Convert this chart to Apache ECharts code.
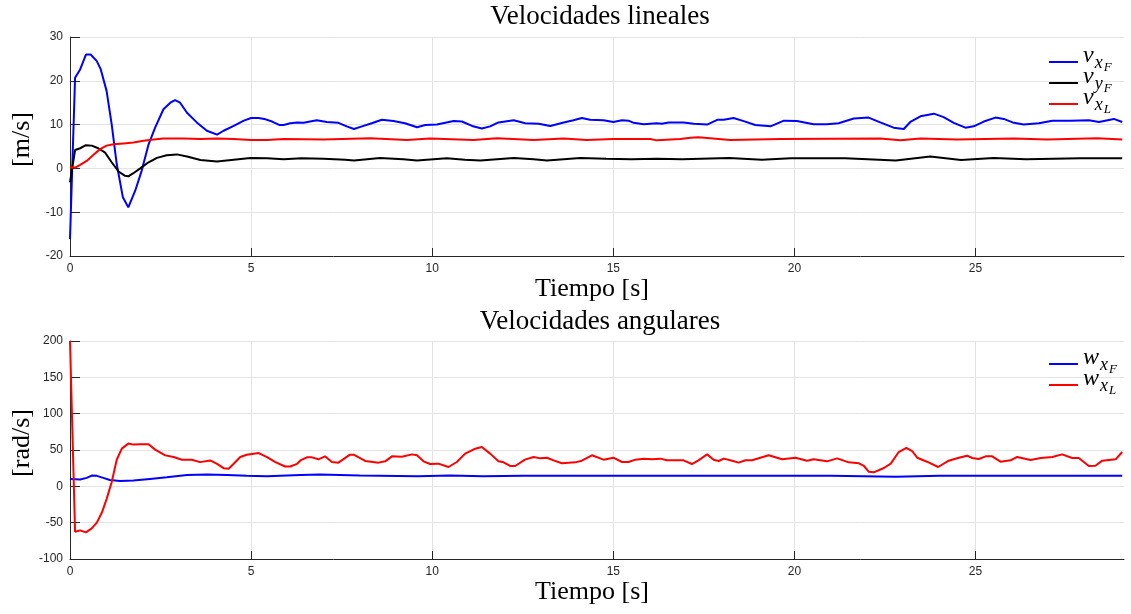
<!DOCTYPE html>
<html><head><meta charset="utf-8">
<script src="https://cdn.jsdelivr.net/npm/echarts@6/dist/echarts.min.js"></script>
<style>html,body{margin:0;padding:0;background:#fff}#c{width:1131px;height:614px}</style>
</head><body><div id="c"></div>
<script>
// ---- data (time [s], value) ----
const xTicks = [0, 5, 10, 15, 20, 25];

const vxF = [[0,-16.1],[0.14,20.7],[0.28,22.6],[0.44,26],[0.57,26],[0.74,24.5],[0.85,22.6],[1.01,17.7],[1.15,10.1],[1.29,1],
[1.46,-6.6],[1.61,-8.9],[1.8,-5.1],[1.98,-0.5],[2.17,5.5],[2.35,9.3],[2.58,13.5],[2.77,15],[2.9,15.6],[3.04,15],
[3.23,12.7],[3.5,10.5],[3.78,8.6],[4.06,7.7],[4.24,8.6],[4.52,9.7],[4.8,10.9],[5.0,11.5],[5.21,11.5],[5.4,11.2],
[5.58,10.7],[5.79,9.9],[5.9,9.9],[6.08,10.3],[6.27,10.5],[6.45,10.4],[6.81,11.0],[7.09,10.6],[7.41,10.4],[7.64,9.6],
[7.84,9.0],[8.06,9.6],[8.29,10.2],[8.61,11.1],[8.93,10.8],[9.25,10.3],[9.58,9.4],[9.81,9.9],[10.13,10.0],[10.36,10.4],
[10.59,10.8],[10.82,10.7],[11.1,9.7],[11.37,9.1],[11.6,9.6],[11.83,10.5],[12.25,11.0],[12.57,10.3],[12.94,10.2],[13.26,9.7],
[13.63,10.5],[13.9,11.0],[14.13,11.5],[14.36,11.1],[14.73,11.0],[15.0,10.6],[15.24,11.0],[15.42,10.9],[15.56,10.4],[15.84,10.1],
[16.2,10.3],[16.34,10.2],[16.53,10.5],[16.94,10.5],[17.22,10.2],[17.59,10.0],[17.87,11.1],[18.05,11.1],[18.32,11.5],[18.6,10.8],
[18.92,9.9],[19.34,9.6],[19.71,10.9],[20.07,10.8],[20.53,10.1],[20.9,10.1],[21.22,10.3],[21.64,11.4],[22.05,11.6],[22.37,10.5],
[22.74,9.3],[23.02,9.0],[23.2,10.6],[23.48,11.9],[23.85,12.5],[24.12,11.7],[24.4,10.4],[24.72,9.3],[24.95,9.6],[25.23,10.7],
[25.55,11.6],[25.78,11.3],[26.06,10.4],[26.33,10.0],[26.75,10.3],[27.12,10.9],[27.62,10.9],[28.13,11.0],[28.41,10.6],[28.82,11.3],
[29.05,10.6]];

const vyF = [[0,-3.2],[0.14,4.2],[0.28,4.6],[0.44,5.3],[0.6,5.2],[0.78,4.6],[0.97,3.6],[1.15,1.4],[1.34,-0.7],[1.52,-1.7],
[1.61,-1.8],[1.75,-1.1],[1.94,0],[2.17,1.4],[2.4,2.4],[2.67,3.0],[2.95,3.2],[3.23,2.7],[3.6,1.9],[4.06,1.6],
[4.52,2.0],[4.98,2.4],[5.44,2.3],[5.9,2.1],[6.4,2.3],[7.0,2.2],[7.6,2.0],[7.84,1.8],[8.56,2.4],[9.2,2.1],
[9.58,1.8],[10.4,2.3],[10.9,2.0],[11.33,1.8],[12.25,2.4],[12.8,2.1],[13.17,1.8],[14.09,2.4],[14.8,2.2],[15.5,2.1],
[16.2,2.2],[16.9,2.1],[18.2,2.4],[19.1,2.0],[19.9,2.3],[21.4,2.3],[22.8,1.8],[23.75,2.7],[24.6,1.9],[25.5,2.4],
[26.4,2.1],[27.9,2.3],[29.05,2.3]];

const vxL = [[0,0.2],[0.14,0.2],[0.28,0.8],[0.46,1.7],[0.65,3.1],[0.83,4.4],[1.01,5.2],[1.2,5.5],[1.48,5.7],[1.75,5.9],
[2.03,6.3],[2.31,6.6],[2.58,6.8],[3.14,6.8],[3.6,6.7],[4.06,6.8],[4.52,6.7],[4.98,6.5],[5.44,6.5],[5.9,6.7],
[7.0,6.6],[8.29,6.9],[9.3,6.5],[9.94,6.8],[11.14,6.5],[11.79,6.9],[12.8,6.5],[13.63,6.8],[14.27,6.5],[15.0,6.7],
[16.02,6.7],[16.2,6.4],[16.85,6.7],[17.13,7.0],[17.35,7.1],[18.23,6.5],[19.62,6.7],[22.37,6.8],[22.92,6.4],[23.48,6.8],
[24.49,6.6],[26.06,6.8],[26.98,6.6],[28.36,6.9],[29.05,6.6]];

const wxF = [[0,10.2],[0.28,9.3],[0.46,11.6],[0.6,14.8],[0.74,14.4],[0.92,11.6],[1.1,8.8],[1.38,7.4],[1.75,7.9],[2.21,10.2],
[2.67,12.5],[3.23,15.7],[3.78,16.2],[4.33,15.7],[4.88,14.4],[5.44,13.9],[6.36,15.7],[6.9,16.2],[8,15.0],[9.6,14.0],
[10.5,14.8],[11.4,13.8],[12.5,14.7],[14,14.7],[15.5,14.5],[17,14.7],[19,14.7],[21,14.7],[22.8,13.3],[24,14.7],
[26,14.7],[29.05,14.7]];

const wxL = [[0,200],[0.14,-62.5],[0.28,-60.6],[0.44,-63.4],[0.6,-57.9],[0.74,-50],[0.88,-36.1],[1.01,-17.6],[1.15,5.6],[1.29,36.6],
[1.43,51.9],[1.61,58.8],[1.75,57.4],[1.94,57.9],[2.17,57.9],[2.35,50.5],[2.63,42.6],[2.86,40.3],[3.09,36.6],[3.36,36.6],
[3.59,33.3],[3.87,35.6],[4.06,31],[4.24,25],[4.38,24.1],[4.52,31],[4.7,40.3],[4.88,43.5],[5.21,45.8],[5.44,40.3],
[5.67,33.3],[5.94,27.3],[6.08,27.3],[6.27,31],[6.36,35.6],[6.54,39.9],[6.68,39.9],[6.86,37.2],[7.04,41.3],[7.23,33.5],
[7.41,32.6],[7.73,43.6],[7.83,43.6],[8.15,34.9],[8.52,32.6],[8.7,34.4],[8.89,41.3],[9.16,40.8],[9.44,44],[9.58,42.7],
[9.76,34.4],[9.94,30.7],[10.17,31.2],[10.45,26.6],[10.68,33.5],[10.91,45],[11.19,51.8],[11.37,54.1],[11.6,45],[11.83,34.4],
[11.97,33],[12.15,28],[12.29,28],[12.56,36.7],[12.8,40.4],[12.98,38.5],[13.17,39.4],[13.35,35.8],[13.58,31.7],[13.95,33],
[14.13,35.3],[14.41,42.7],[14.73,36.7],[15.0,39.4],[15.24,33.5],[15.42,33.5],[15.61,36.7],[15.84,38.1],[16.07,37.2],[16.3,38.1],
[16.48,35.8],[16.94,35.8],[17.17,30.7],[17.35,35.8],[17.59,44],[17.77,36.7],[17.91,34.9],[18.05,38.1],[18.28,35.3],[18.46,32.6],
[18.65,35.8],[18.83,35.8],[19.06,39.4],[19.29,42.7],[19.66,37.2],[20.03,39.4],[20.35,35.3],[20.53,37.2],[20.9,34.4],[21.18,38.5],
[21.5,33],[21.78,31.7],[21.92,28],[22.05,20.2],[22.19,19.3],[22.47,25.2],[22.66,31.2],[22.88,47.2],[23.09,52.8],[23.25,48.6],
[23.39,39.4],[23.66,33.9],[23.97,26.6],[24.26,35.3],[24.54,39.4],[24.77,42.2],[24.91,39],[25.09,37.6],[25.28,41.3],[25.46,41.3],
[25.69,33.9],[25.97,35.8],[26.15,40.4],[26.52,36.2],[26.8,39],[27.12,40.4],[27.39,44],[27.67,39],[27.85,39],[28.13,28],
[28.31,28.4],[28.5,35.3],[28.87,37.2],[29.05,47.2]];

// legend label markup (math italic with subscripts)
const legendLabels = {
  vxF: '{v|v}{s|x}{ss|F}',
  vyF: '{v|v}{s|y}{ss|F}',
  vxL: '{v|v}{s|x}{ss|L}',
  wxF: '{v|w}{s|x}{ss|F}',
  wxL: '{v|w}{s|x}{ss|L}'
};

// ---- styling ----
const serif = 'Liberation Serif';
const sans = 'Liberation Sans';
const axisColor = '#262626';
const gridColor = '#e3e3e3';

function xAxis(gi) {
  return {
    type: 'value', gridIndex: gi, min: 0, max: 29.1,
    axisLine: { show: true, onZero: false, lineStyle: { color: axisColor, width: 1 } },
    axisTick: { show: true, inside: true, length: 8, customValues: xTicks, lineStyle: { color: axisColor } },
    axisLabel: { customValues: xTicks, color: axisColor, fontFamily: sans, fontSize: 12, margin: 7 },
    splitLine: { show: true, lineStyle: { color: gridColor, width: 1 } },
    name: 'Tiempo [s]', nameLocation: 'middle', nameGap: 20, nameMoveOverlap: false,
    nameTextStyle: { fontFamily: serif, fontSize: 26, color: '#000', padding: [0, 10, 0, 0] }
  };
}
function yAxis(gi, min, max, interval, name) {
  return {
    type: 'value', gridIndex: gi, min: min, max: max, interval: interval,
    axisLine: { show: true, onZero: false, lineStyle: { color: axisColor, width: 1 } },
    axisTick: { show: true, inside: true, length: 10, lineStyle: { color: axisColor } },
    axisLabel: { color: axisColor, fontFamily: sans, fontSize: 12, margin: 7 },
    splitLine: { show: true, lineStyle: { color: gridColor, width: 1 } },
    name: name, nameLocation: 'middle', nameGap: 35, nameMoveOverlap: false,
    nameTextStyle: { fontFamily: serif, fontSize: 26, color: '#000', padding: [0, 0, 0, 14] }
  };
}
const rich = {
  v: { fontFamily: serif, fontStyle: 'italic', fontSize: 24, lineHeight: 24, color: '#000', verticalAlign: 'bottom', padding: [0, 0, 6, 0] },
  s: { fontFamily: serif, fontStyle: 'italic', fontSize: 18, lineHeight: 18, color: '#000', verticalAlign: 'bottom', padding: [0, 0, 2, 1] },
  ss: { fontFamily: serif, fontStyle: 'italic', fontSize: 13, lineHeight: 13, color: '#000', verticalAlign: 'bottom', padding: [0, 0, 0, 1] }
};
function legend(names, top) {
  return {
    data: names, orient: 'vertical', left: 1049, top: top, padding: 0, itemGap: -9,
    itemWidth: 29, itemHeight: 2, icon: 'rect',
    formatter: n => legendLabels[n],
    textStyle: { color: '#000', rich: rich }
  };
}
function line(name, data, gi, color) {
  return {
    type: 'line', name: name, data: data, xAxisIndex: gi, yAxisIndex: gi,
    showSymbol: false, symbol: 'none', smooth: false,
    lineStyle: { color: color, width: 2 }, itemStyle: { color: color },
    animation: false
  };
}

const chart = echarts.init(document.getElementById('c'));
chart.setOption({
  animation: false,
  backgroundColor: '#fff',
  title: [
    { text: 'Velocidades lineales', left: 600, textAlign: 'center', top: 3, padding: 0,
      textStyle: { fontFamily: serif, fontSize: 27, fontWeight: 'normal', color: '#000' } },
    { text: 'Velocidades angulares', left: 600, textAlign: 'center', top: 308, padding: 0,
      textStyle: { fontFamily: serif, fontSize: 27, fontWeight: 'normal', color: '#000' } }
  ],
  grid: [
    { left: 70, top: 37, width: 1054, height: 219, containLabel: false, outerBoundsMode: 'none' },
    { left: 70, top: 341, width: 1054, height: 218, containLabel: false, outerBoundsMode: 'none' }
  ],
  xAxis: [xAxis(0), xAxis(1)],
  yAxis: [yAxis(0, -20, 30, 10, '[m/s]'), yAxis(1, -100, 200, 50, '[rad/s]')],
  legend: [legend(['vxF', 'vyF', 'vxL'], 44), legend(['wxF', 'wxL'], 346)],
  series: [
    line('vxF', vxF, 0, '#0000ff'),
    line('vyF', vyF, 0, '#000000'),
    line('vxL', vxL, 0, '#ff0000'),
    line('wxF', wxF, 1, '#0000ff'),
    line('wxL', wxL, 1, '#ff0000')
  ]
});
</script></body></html>
